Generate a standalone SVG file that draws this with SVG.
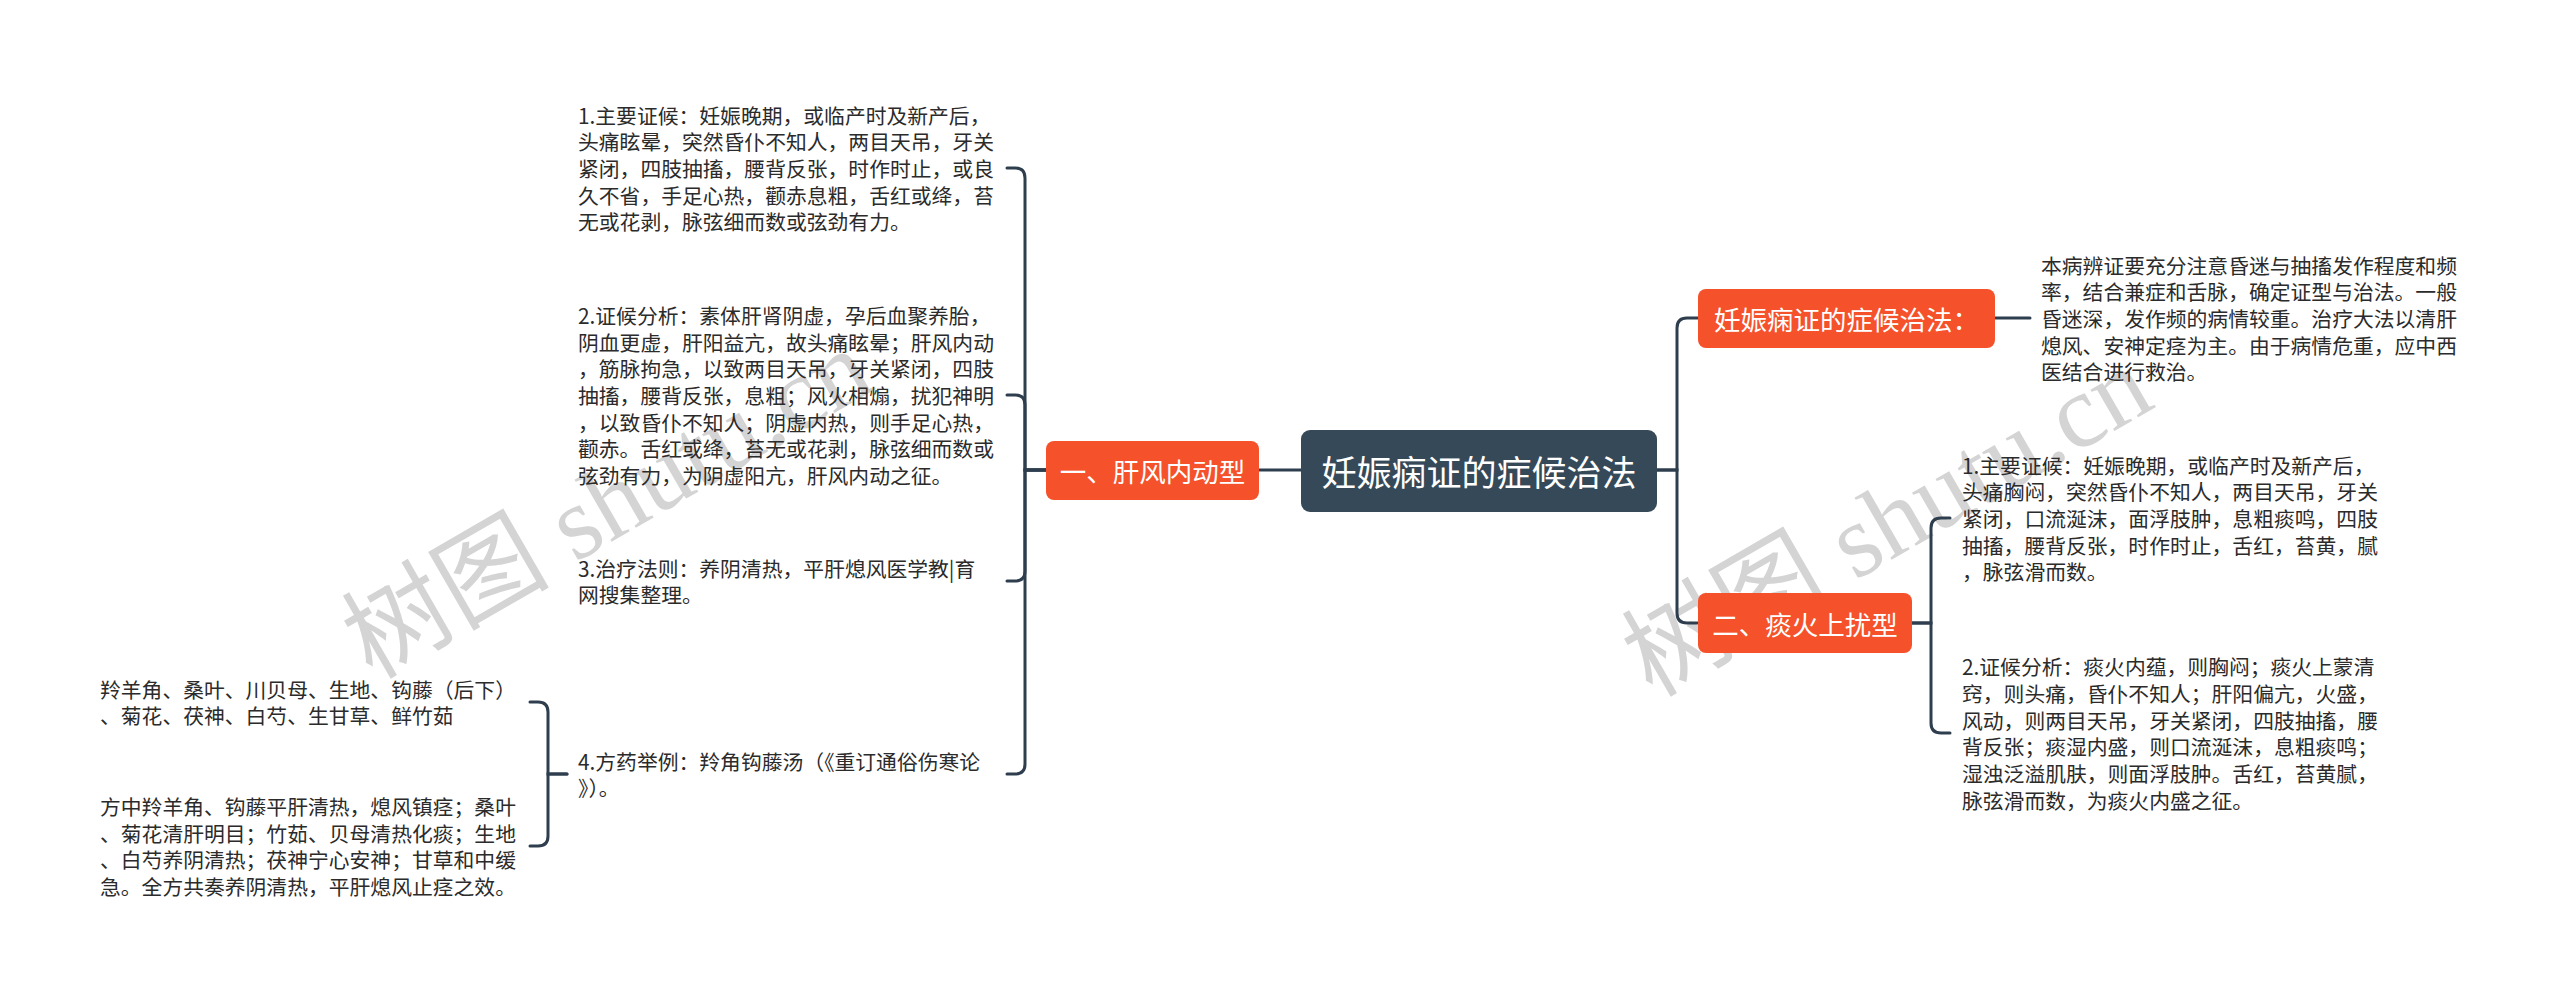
<svg xmlns="http://www.w3.org/2000/svg" width="2560" height="1001" viewBox="0 0 2560 1001">
<style>
.bg{fill:#ffffff}
.wm{font-family:"Liberation Serif","Noto Sans CJK SC",serif;font-size:104px;fill:#d4d4d4}
.c{fill:none;stroke:#2e3e4e;stroke-width:3;stroke-linecap:round}
.root{fill:#364958}
.br{fill:#f5512b}
.rt{font-family:"Noto Sans CJK SC","Noto Sans",sans-serif;font-size:35px;fill:#ffffff;text-anchor:middle;dominant-baseline:central}
.bt{font-family:"Noto Sans CJK SC","Noto Sans",sans-serif;font-size:26.5px;fill:#ffffff;text-anchor:middle;dominant-baseline:central}
.t{font-family:"Noto Sans CJK SC","Noto Sans",sans-serif;font-size:20.8px;fill:#2b2b2b;dominant-baseline:central}
</style>
<rect class="bg" x="0" y="0" width="2560" height="1001"/>
<g id="watermarks">
<text class="wm" transform="translate(372,680) rotate(-30)">树图 shutu.cn</text>
<text class="wm" transform="translate(1652,698) rotate(-30)">树图 shutu.cn</text>
</g>
<g id="connectors">
<path class="c" d="M1301,470 H1259"/>
<path class="c" d="M1046,470 H1025 V178 Q1025,168 1015,168 H1007"/>
<path class="c" d="M1046,470 H1025 V405 Q1025,395 1015,395 H1007"/>
<path class="c" d="M1046,470 H1025 V571 Q1025,581 1015,581 H1007"/>
<path class="c" d="M1046,470 H1025 V764 Q1025,774 1015,774 H1007"/>
<path class="c" d="M567,774 H548 V712 Q548,702 538,702 H530"/>
<path class="c" d="M567,774 H548 V836 Q548,846 538,846 H530"/>
<path class="c" d="M1657,470 H1677 V328 Q1677,318 1687,318 H1698"/>
<path class="c" d="M1657,470 H1677 V613 Q1677,623 1687,623 H1698"/>
<path class="c" d="M1995,318 H2030"/>
<path class="c" d="M1912,623 H1931 V528 Q1931,518 1941,518 H1950"/>
<path class="c" d="M1912,623 H1931 V723 Q1931,733 1941,733 H1950"/>
</g>
<g id="root">
<rect class="root" x="1301" y="430" width="356" height="82" rx="9"/>
<text class="rt" x="1479" y="470">妊娠痫证的症候治法</text>
</g>
<g id="branch-left">
<rect class="br" x="1046" y="441" width="213" height="59" rx="8"/>
<text class="bt" x="1152.5" y="470">一、肝风内动型</text>
</g>
<g id="branch-r1">
<rect class="br" x="1698" y="289" width="297" height="59" rx="8"/>
<text class="bt" x="1846.5" y="318">妊娠痫证的症候治法：</text>
</g>
<g id="branch-r2">
<rect class="br" x="1698" y="593" width="214" height="60" rx="8"/>
<text class="bt" x="1805" y="623">二、痰火上扰型</text>
</g>
<g id="l1">
<text class="t" x="578" y="114.7">1.主要证候：妊娠晚期，或临产时及新产后，</text>
<text class="t" x="578" y="141.3">头痛眩晕，突然昏仆不知人，两目天吊，牙关</text>
<text class="t" x="578" y="168">紧闭，四肢抽搐，腰背反张，时作时止，或良</text>
<text class="t" x="578" y="194.7">久不省，手足心热，颧赤息粗，舌红或绛，苔</text>
<text class="t" x="578" y="221.3">无或花剥，脉弦细而数或弦劲有力。</text>
</g>
<g id="l2">
<text class="t" x="578" y="315">2.证候分析：素体肝肾阴虚，孕后血聚养胎，</text>
<text class="t" x="578" y="341.7">阴血更虚，肝阳益亢，故头痛眩晕；肝风内动</text>
<text class="t" x="578" y="368.3">，筋脉拘急，以致两目天吊，牙关紧闭，四肢</text>
<text class="t" x="578" y="395">抽搐，腰背反张，息粗；风火相煽，扰犯神明</text>
<text class="t" x="578" y="421.7">，以致昏仆不知人；阴虚内热，则手足心热，</text>
<text class="t" x="578" y="448.3">颧赤。舌红或绛，苔无或花剥，脉弦细而数或</text>
<text class="t" x="578" y="475">弦劲有力，为阴虚阳亢，肝风内动之征。</text>
</g>
<g id="l3">
<text class="t" x="578" y="567.7">3.治疗法则：养阴清热，平肝熄风医学教|育</text>
<text class="t" x="578" y="594.3">网搜集整理。</text>
</g>
<g id="l4">
<text class="t" x="578" y="760.7">4.方药举例：羚角钩藤汤（《重订通俗伤寒论</text>
<text class="t" x="578" y="787.3">》）。</text>
</g>
<g id="l4a">
<text class="t" x="100" y="688.7">羚羊角、桑叶、川贝母、生地、钩藤（后下）</text>
<text class="t" x="100" y="715.3">、菊花、茯神、白芍、生甘草、鲜竹茹</text>
</g>
<g id="l4b">
<text class="t" x="100" y="806">方中羚羊角、钩藤平肝清热，熄风镇痉；桑叶</text>
<text class="t" x="100" y="832.7">、菊花清肝明目；竹茹、贝母清热化痰；生地</text>
<text class="t" x="100" y="859.3">、白芍养阴清热；茯神宁心安神；甘草和中缓</text>
<text class="t" x="100" y="886">急。全方共奏养阴清热，平肝熄风止痉之效。</text>
</g>
<g id="r1a">
<text class="t" x="2041" y="264.7">本病辨证要充分注意昏迷与抽搐发作程度和频</text>
<text class="t" x="2041" y="291.3">率，结合兼症和舌脉，确定证型与治法。一般</text>
<text class="t" x="2041" y="318">昏迷深，发作频的病情较重。治疗大法以清肝</text>
<text class="t" x="2041" y="344.7">熄风、安神定痉为主。由于病情危重，应中西</text>
<text class="t" x="2041" y="371.3">医结合进行救治。</text>
</g>
<g id="r2a">
<text class="t" x="1962" y="464.7">1.主要证候：妊娠晚期，或临产时及新产后，</text>
<text class="t" x="1962" y="491.3">头痛胸闷，突然昏仆不知人，两目天吊，牙关</text>
<text class="t" x="1962" y="518">紧闭，口流涎沫，面浮肢肿，息粗痰鸣，四肢</text>
<text class="t" x="1962" y="544.7">抽搐，腰背反张，时作时止，舌红，苔黄，腻</text>
<text class="t" x="1962" y="571.3">，脉弦滑而数。</text>
</g>
<g id="r2b">
<text class="t" x="1962" y="666.3">2.证候分析：痰火内蕴，则胸闷；痰火上蒙清</text>
<text class="t" x="1962" y="693">窍，则头痛，昏仆不知人；肝阳偏亢，火盛，</text>
<text class="t" x="1962" y="719.7">风动，则两目天吊，牙关紧闭，四肢抽搐，腰</text>
<text class="t" x="1962" y="746.3">背反张；痰湿内盛，则口流涎沫，息粗痰鸣；</text>
<text class="t" x="1962" y="773">湿浊泛溢肌肤，则面浮肢肿。舌红，苔黄腻，</text>
<text class="t" x="1962" y="799.7">脉弦滑而数，为痰火内盛之征。</text>
</g>
</svg>
